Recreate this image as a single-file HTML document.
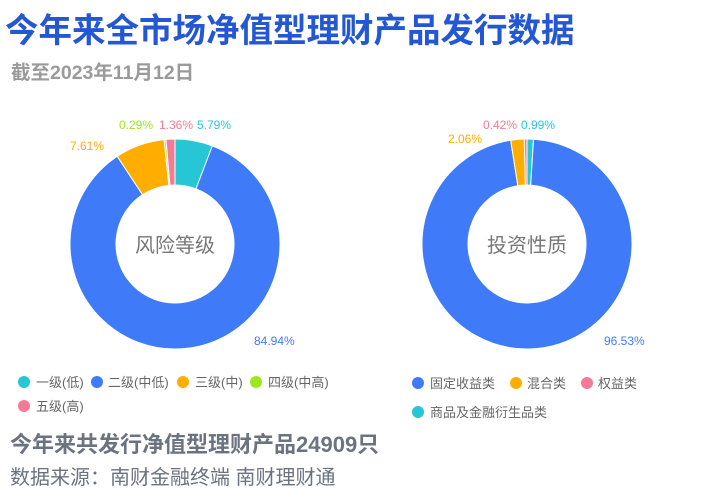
<!DOCTYPE html>
<html><head><meta charset="utf-8"><style>
body{margin:0;background:#fff;width:702px;height:503px;overflow:hidden;font-family:"Liberation Sans","Noto Sans CJK SC",sans-serif}
</style></head><body>
<svg id="s" width="702" height="503" xmlns="http://www.w3.org/2000/svg" style="position:absolute;left:0;top:0;font-family:'Liberation Sans','Noto Sans CJK SC',sans-serif">
<text x="5" y="42" font-size="33.5" font-weight="bold" fill="#2457d4">今年来全市场净值型理财产品发行数据</text>
<text x="11" y="79" font-size="19.5" font-weight="bold" fill="#9a9a9a">截至2023年11月12日</text>
<g id="d1"></g><g id="d2"></g>
<text x="175" y="252" font-size="20" fill="#777" text-anchor="middle">风险等级</text>
<text x="527" y="252" font-size="20" fill="#777" text-anchor="middle">投资性质</text>
<g font-size="12">
<text x="119" y="129" fill="#9be81c">0.29%</text>
<text x="159" y="129" fill="#f47b97">1.36%</text>
<text x="197" y="129" fill="#26c6d4">5.79%</text>
<text x="70" y="150" fill="#ffae00">7.61%</text>
<text x="254" y="345" fill="#3f7bf8">84.94%</text>
<text x="483" y="129" fill="#f47b97">0.42%</text>
<text x="521" y="129" fill="#26c6d4">0.99%</text>
<text x="448" y="143" fill="#ffae00">2.06%</text>
<text x="604" y="345" fill="#3f7bf8">96.53%</text>
</g>
<g font-size="13" fill="#666">
<circle cx="24" cy="382" r="6" fill="#26c6d4"/><text x="36" y="387">一级(低)</text>
<circle cx="97" cy="382" r="6" fill="#3f7bf8"/><text x="108" y="387">二级(中低)</text>
<circle cx="183" cy="382" r="6" fill="#ffae00"/><text x="195" y="387">三级(中)</text>
<circle cx="256" cy="382" r="6" fill="#9be81c"/><text x="268" y="387">四级(中高)</text>
<circle cx="24" cy="406" r="6" fill="#f47b97"/><text x="36" y="411">五级(高)</text>
<circle cx="418" cy="383" r="6" fill="#3f7bf8"/><text x="430" y="388">固定收益类</text>
<circle cx="516" cy="383" r="6" fill="#ffae00"/><text x="527" y="388">混合类</text>
<circle cx="587" cy="383" r="6" fill="#f47b97"/><text x="598" y="388">权益类</text>
<circle cx="418" cy="412" r="6" fill="#26c6d4"/><text x="430" y="417">商品及金融衍生品类</text>
</g>
<text x="10" y="452" font-size="22" font-weight="bold" fill="#6b7280">今年来共发行净值型理财产品24909只</text>
<text x="10" y="484" font-size="20" fill="#6b7280">数据来源：南财金融终端 南财理财通</text>
</svg>
<script>
function donut(id,cx,cy,R,r,data){
 var g=document.getElementById(id),a=-Math.PI/2,h='';
 data.forEach(function(d){
  var b=a+d[0]/100*2*Math.PI,l=(b-a)>Math.PI?1:0;
  var p=function(rr,t){return (cx+rr*Math.cos(t)).toFixed(2)+' '+(cy+rr*Math.sin(t)).toFixed(2)};
  h+='<path d="M'+p(R,a)+' A'+R+' '+R+' 0 '+l+' 1 '+p(R,b)+' L'+p(r,b)+' A'+r+' '+r+' 0 '+l+' 0 '+p(r,a)+'Z" fill="'+d[1]+'" stroke="#fff" stroke-width="1"/>';
  a=b;});
 g.innerHTML=h;
}
donut('d1',175,244,105,59,[[5.79,'#26c6d4'],[84.94,'#3f7bf8'],[7.61,'#ffae00'],[0.29,'#9be81c'],[1.36,'#f47b97']]);
donut('d2',527,244,105,59,[[0.99,'#26c6d4'],[96.53,'#3f7bf8'],[2.06,'#ffae00'],[0.42,'#f47b97']]);
</script>
</body></html>
